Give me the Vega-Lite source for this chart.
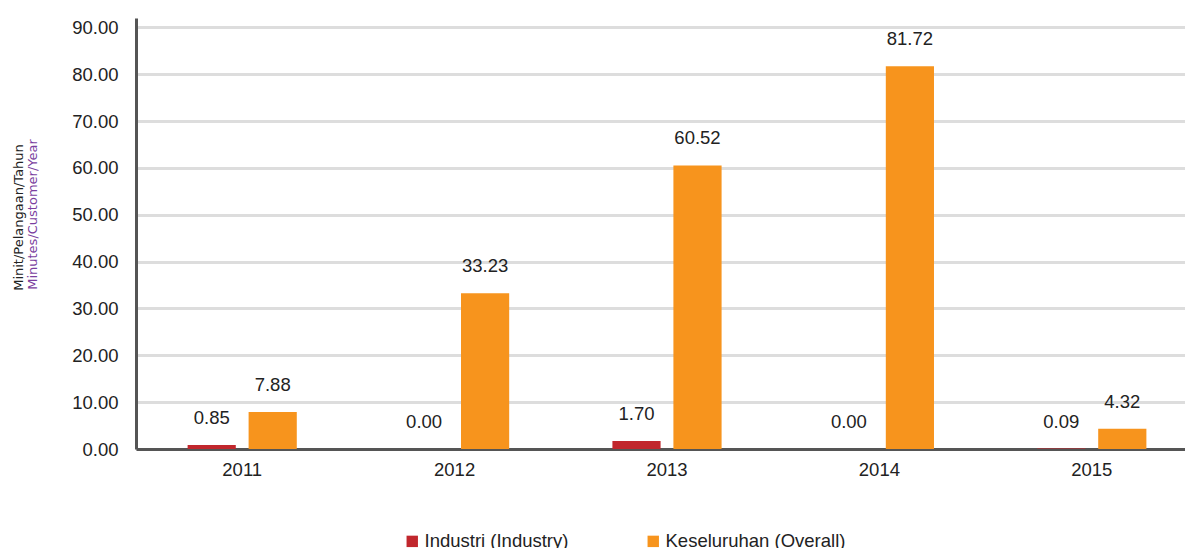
{
  "$schema": "https://vega.github.io/schema/vega-lite/v6.json",
  "width": 1049,
  "height": 431,
  "autosize": {"type": "none"},
  "padding": {"left": 136, "top": 18, "right": 0, "bottom": 99},
  "config": {"font": "Liberation Sans", "view": {"stroke": null}},
  "data": {
    "values": [
      {"year": "2011", "series": "Industri (Industry)", "value": 0.85},
      {"year": "2011", "series": "Keseluruhan (Overall)", "value": 7.88},
      {"year": "2012", "series": "Industri (Industry)", "value": 0.0},
      {"year": "2012", "series": "Keseluruhan (Overall)", "value": 33.23},
      {"year": "2013", "series": "Industri (Industry)", "value": 1.7},
      {"year": "2013", "series": "Keseluruhan (Overall)", "value": 60.52},
      {"year": "2014", "series": "Industri (Industry)", "value": 0.0},
      {"year": "2014", "series": "Keseluruhan (Overall)", "value": 81.72},
      {"year": "2015", "series": "Industri (Industry)", "value": 0.09},
      {"year": "2015", "series": "Keseluruhan (Overall)", "value": 4.32}
    ]
  },
  "encoding": {
    "x": {
      "field": "year",
      "type": "nominal",
      "scale": {"paddingInner": 0.486, "paddingOuter": 0.243, "range": [0, 1062]},
      "axis": {
        "title": null,
        "labelAngle": 0,
        "ticks": false,
        "domainColor": "#555555",
        "domainWidth": 3,
        "labelFontSize": 18.5,
        "labelColor": "#222222",
        "labelPadding": 11
      }
    },
    "xOffset": {
      "field": "series",
      "type": "nominal",
      "sort": ["Industri (Industry)", "Keseluruhan (Overall)"],
      "scale": {"paddingInner": 0.21}
    }
  },
  "layer": [
    {
      "mark": {"type": "bar"},
      "encoding": {
        "y": {
          "field": "value",
          "type": "quantitative",
          "scale": {"domain": [0, 92], "nice": false},
          "axis": {
            "orient": "left",
            "values": [0, 10, 20, 30, 40, 50, 60, 70, 80, 90],
            "format": ".2f",
            "grid": true,
            "gridColor": "#dddddd",
            "gridWidth": 3,
            "domainColor": "#555555",
            "domainWidth": 3,
            "ticks": false,
            "labelFontSize": 18.5,
            "labelColor": "#222222",
            "labelPadding": 18,
            "title": "Minit/Pelangaan/Tahun",
            "titleFont": "DejaVu Sans",
            "titleFontSize": 13,
            "titleFontWeight": "normal",
            "titleColor": "#222222",
            "titlePadding": 46,
            "titleY": 199
          }
        },
        "color": {
          "field": "series",
          "type": "nominal",
          "sort": ["Industri (Industry)", "Keseluruhan (Overall)"],
          "scale": {"range": ["#c1272d", "#f7941d"]},
          "legend": {
            "orient": "none",
            "legendX": 267,
            "legendY": 514,
            "direction": "horizontal",
            "title": null,
            "symbolType": "square",
            "symbolSize": 130,
            "symbolStrokeWidth": 0,
            "labelFontSize": 18.5,
            "labelColor": "#222222",
            "labelLimit": 300,
            "columnPadding": 75,
            "labelOffset": 3
          }
        }
      }
    },
    {
      "mark": {"type": "text", "baseline": "bottom", "dy": -17, "fontSize": 18.5, "color": "#222222"},
      "encoding": {
        "y": {
          "field": "value",
          "type": "quantitative",
          "scale": {"domain": [0, 92], "nice": false},
          "axis": {
            "orient": "left",
            "labels": false,
            "ticks": false,
            "domain": false,
            "grid": false,
            "title": "Minutes/Customer/Year",
            "titleFont": "DejaVu Sans",
            "titleFontSize": 13,
            "titleFontWeight": "normal",
            "titleColor": "#7b3fa0",
            "titlePadding": 97,
            "titleY": 196
          }
        },
        "text": {"field": "value", "type": "quantitative", "format": ".2f"}
      }
    }
  ],
  "resolve": {"scale": {"y": "independent"}}
}
